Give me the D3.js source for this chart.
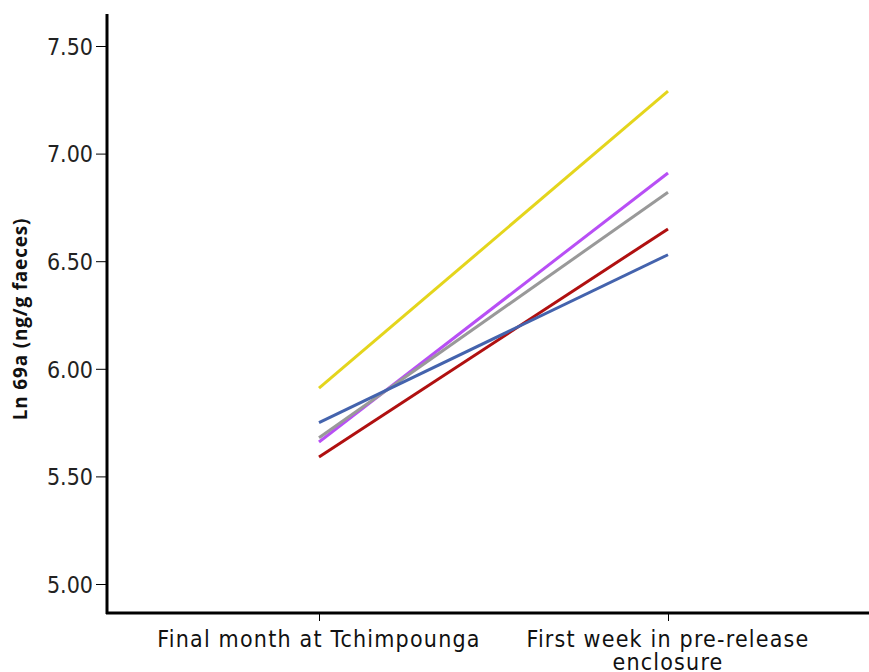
<!DOCTYPE html>
<html>
<head>
<meta charset="utf-8">
<script src="https://cdnjs.cloudflare.com/ajax/libs/d3/7.8.5/d3.min.js"></script>
<style>
  body { margin: 0; background: #fff; }
  svg { display: block; }
</style>
</head>
<body>
<div id="chart"></div>
<script>
// categories on the x axis
var categories = ["Final month at Tchimpounga", "First week in pre-release enclosure"];

// one series per individual: [final month, first week]
var yellowVals = [5.91, 7.29];
var purpleVals = [5.66, 6.91];
var grayVals = [5.68, 6.82];
var redVals = [5.59, 6.65];
var blueVals = [5.75, 6.53];

var yTicks = [5.00, 5.50, 6.00, 6.50, 7.00, 7.50];

var series = [
  { name: "yellow", color: "#e4d51c", values: yellowVals },
  { name: "purple", color: "#b84ff5", values: purpleVals },
  { name: "gray", color: "#999999", values: grayVals },
  { name: "red", color: "#b01010", values: redVals },
  { name: "blue", color: "#4463ad", values: blueVals }
];

var svgWidth = 869;
var svgHeight = 672;

var svg = d3.select("#chart")
  .append("svg")
  .attr("width", svgWidth)
  .attr("height", svgHeight);

var axisX = 107, axisTop = 14, axisBottom = 613;

var yScale = d3.scaleLinear()
  .domain([5, 7.5])
  .range([584, 46]);

var xScale = d3.scalePoint()
  .domain(categories)
  .range([319, 668]);

// y axis ticks + labels
var yAxis = d3.axisLeft(yScale)
  .tickValues(yTicks)
  .tickSize(11)
  .tickPadding(3)
  .tickFormat(d3.format(".2f"));

var yG = svg.append("g")
  .attr("transform", `translate(${axisX}, 0)`)
  .call(yAxis);
yG.select(".domain").remove();
yG.selectAll(".tick line").attr("stroke", "#000").attr("stroke-width", 1);
yG.selectAll(".tick text")
  .attr("fill", "#222")
  .attr("dy", "0.36em")
  .style("font-family", "DejaVu Sans Condensed")
  .style("font-size", "23px");

// x axis ticks
var xAxis = d3.axisBottom(xScale).tickSize(8).tickFormat("");
var xG = svg.append("g")
  .attr("transform", `translate(0, ${axisBottom})`)
  .call(xAxis);
xG.select(".domain").remove();
xG.selectAll(".tick line").attr("stroke", "#000").attr("stroke-width", 1);

// x labels (wrapped by hand)
var xLabelLines = {
  "Final month at Tchimpounga": ["Final month at Tchimpounga"],
  "First week in pre-release enclosure": ["First week in pre-release", "enclosure"]
};
categories.forEach(function(c) {
  var t = svg.append("text")
    .attr("x", xScale(c))
    .attr("y", 647)
    .attr("text-anchor", "middle")
    .attr("fill", "#111")
    .style("font-family", "DejaVu Sans Condensed")
    .style("font-size", "23px")
    .style("letter-spacing", "1.2px");
  xLabelLines[c].forEach(function(line, i) {
    t.append("tspan")
      .attr("x", xScale(c))
      .attr("dy", i == 0 ? 0 : 23)
      .text(line);
  });
});

// axis lines
svg.append("line")
  .attr("x1", axisX).attr("x2", axisX)
  .attr("y1", axisTop).attr("y2", axisBottom + 1)
  .attr("stroke", "#000").attr("stroke-width", 3);
svg.append("line")
  .attr("x1", axisX - 1).attr("x2", svgWidth)
  .attr("y1", axisBottom).attr("y2", axisBottom)
  .attr("stroke", "#000").attr("stroke-width", 3);

// y title
svg.append("text")
  .attr("transform", `translate(27, 319) rotate(-90)`)
  .attr("text-anchor", "middle")
  .attr("fill", "#111")
  .style("font-family", "Open Sans")
  .style("font-weight", "bold")
  .style("font-size", "19px")
  .style("letter-spacing", "0.8px")
  .text("Ln 69a (ng/g faeces)");

// lines
var line = d3.line()
  .x(function(d, i) { return xScale(categories[i]); })
  .y(function(d) { return yScale(d); });

svg.selectAll(".series")
  .data(series)
  .enter()
  .append("path")
  .attr("class", "series")
  .attr("d", d => line(d.values))
  .attr("fill", "none")
  .attr("stroke", d => d.color)
  .attr("stroke-width", 3);
</script>
</body>
</html>
